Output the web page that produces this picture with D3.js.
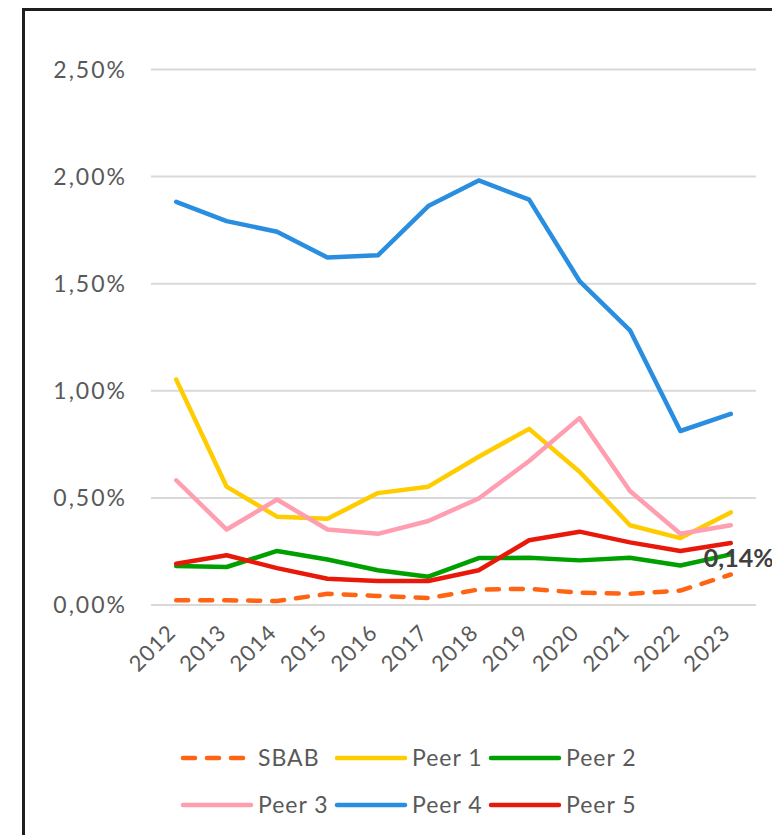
<!DOCTYPE html>
<html>
  <head>
    <meta charset="utf-8">
    <script src="https://d3js.org/d3.v7.min.js"></script>
    <style>
      body { margin: 0; background: #fff; }
      text { font-family: Lato, "Open Sans", sans-serif; fill: #595959; }
    </style>
  </head>
<body>
  <script type="text/javascript">
    // data (values in %)
    var years = ["2012","2013","2014","2015","2016","2017","2018","2019","2020","2021","2022","2023"];
    var sbab  = [0.02, 0.02, 0.016, 0.05, 0.04, 0.03, 0.07, 0.073, 0.055, 0.05, 0.065, 0.14];
    var peer1 = [1.05, 0.55, 0.41, 0.40, 0.52, 0.55, 0.69, 0.82, 0.62, 0.37, 0.31, 0.43];
    var peer2 = [0.18, 0.175, 0.25, 0.21, 0.16, 0.13, 0.217, 0.218, 0.206, 0.218, 0.182, 0.234];
    var peer3 = [0.58, 0.35, 0.49, 0.35, 0.33, 0.39, 0.495, 0.67, 0.87, 0.53, 0.33, 0.37];
    var peer4 = [1.88, 1.79, 1.74, 1.62, 1.63, 1.86, 1.98, 1.89, 1.51, 1.28, 0.81, 0.89];
    var peer5 = [0.19, 0.23, 0.17, 0.12, 0.11, 0.11, 0.16, 0.30, 0.34, 0.29, 0.25, 0.287];
    var yTicks = [0, 0.5, 1, 1.5, 2, 2.5];

    var series = [
      {name: "SBAB",   values: sbab,  color: "#ff6414", dash: true},
      {name: "Peer 1", values: peer1, color: "#ffcc00"},
      {name: "Peer 2", values: peer2, color: "#00a000"},
      {name: "Peer 3", values: peer3, color: "#ff9eb0"},
      {name: "Peer 4", values: peer4, color: "#2a8ee0"},
      {name: "Peer 5", values: peer5, color: "#e8190a"}
    ];

    var fmt = function (v) { return d3.format(".2f")(v).replace(".", ",") + "%"; };

    var svg = d3.select("body").append("svg")
        .attr("width", 772)
        .attr("height", 835);

    // outer frame (runs off the right and bottom edges)
    svg.append("rect")
        .attr("x", 23.5).attr("y", 9.5)
        .attr("width", 800).attr("height", 900)
        .attr("fill", "none")
        .attr("stroke", "#1e1e1e")
        .attr("stroke-width", 3);

    var x = d3.scaleBand().domain(years).range([151, 756]);
    var y = d3.scaleLinear().domain([0, 2.5]).range([604.5, 69]);

    // gridlines + y labels
    var yAxis = d3.axisLeft(y).tickValues(yTicks).tickFormat(fmt).tickSize(-605).tickPadding(24);
    var gy = svg.append("g").attr("transform", "translate(151,0)").call(yAxis);
    gy.select(".domain").remove();
    gy.selectAll("line").attr("stroke", "#d9d9d9").attr("stroke-width", 2);
    gy.selectAll("text")
        .style("font-size", "23px")
        .style("letter-spacing", "2px")
        .attr("fill", "#595959")
        .attr("dy", "0.36em");

    // x labels, rotated
    svg.append("g").selectAll("text")
        .data(years)
      .join("text")
        .attr("transform", function (d) { return "translate(" + (x(d) + x.bandwidth() / 2 + 1) + ",634) rotate(-45)"; })
        .attr("text-anchor", "end")
        .style("font-size", "22px")
        .style("letter-spacing", "1px")
        .text(function (d) { return d; });

    var line = d3.line()
        .x(function (d, i) { return x(years[i]) + x.bandwidth() / 2; })
        .y(function (d) { return y(d); });

    // draw SBAB last so it sits on top
    var order = series.slice(1).concat([series[0]]);
    svg.append("g").selectAll("path")
        .data(order)
      .join("path")
        .attr("d", function (s) { return line(s.values); })
        .attr("fill", "none")
        .attr("stroke", function (s) { return s.color; })
        .attr("stroke-width", 4.5)
        .attr("stroke-linejoin", "round")
        .attr("stroke-linecap", "round")
        .attr("stroke-dasharray", function (s) { return s.dash ? "12,12" : null; });

    // end label for SBAB
    var last = sbab.length - 1;
    svg.append("text")
        .attr("x", x(years[last]) + x.bandwidth() / 2 - 27)
        .attr("y", y(sbab[last]) - 8)
        .style("font-size", "25px")
        .style("font-weight", "bold")
        .style("fill", "#404040")
        .text(fmt(sbab[last]));

    // legend, two rows of three
    var lg = svg.append("g").selectAll("g")
        .data(series)
      .join("g")
        .attr("transform", function (s, i) { return "translate(" + (181 + (i % 3) * 154) + "," + (758 + Math.floor(i / 3) * 47) + ")"; });
    lg.append("line")
        .attr("x1", 2).attr("x2", function (s) { return s.dash ? 64 : 70; })
        .attr("stroke", function (s) { return s.color; })
        .attr("stroke-width", 4.5)
        .attr("stroke-linecap", "round")
        .attr("stroke-dasharray", function (s) { return s.dash ? "12,12" : null; });
    lg.append("text")
        .attr("x", 77)
        .attr("dy", "0.36em")
        .style("font-size", "23px")
        .style("letter-spacing", "1px")
        .text(function (s) { return s.name; });
  </script>
</body>
</html>
